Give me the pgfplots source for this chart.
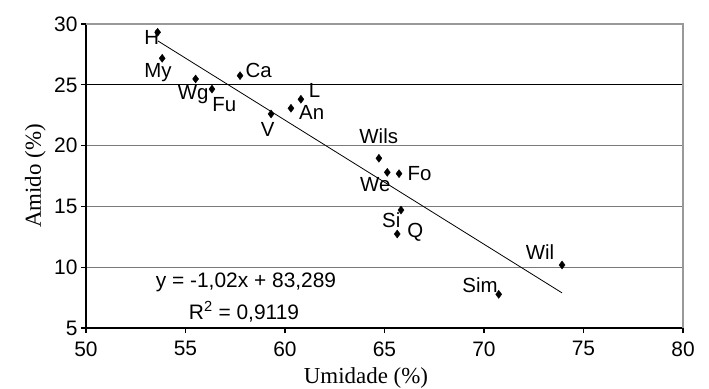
\documentclass[border=0pt]{standalone}
\usepackage{pgfplots}
\pgfplotsset{compat=1.18}
\usepackage{fontspec}
\setmainfont{Liberation Sans}
\newfontfamily\seriffont{Liberation Serif}
\definecolor{framegray}{HTML}{999999}
\definecolor{gridgray}{HTML}{7A7A7A}
\begin{document}
\begin{tikzpicture}
\begin{axis}[
  scale only axis, width=597bp, height=304bp,
  xmin=50, xmax=80, ymin=5, ymax=30,
  xtick={50,55,...,80}, ytick={5,10,...,30},
  axis lines=left, axis line style={-, line width=1.8bp, black},
  tick align=outside, major tick length=5bp,
  tick style={black, line width=1.2bp},
  ymajorgrids, grid style={line width=1.3bp, gridgray},
  extra y ticks={25}, extra y tick labels={},
  extra y tick style={grid style={line width=1.3bp, black}},
  /pgf/number format/assume math mode=true,
  ticklabel style={font=\fontsize{21}{25}\selectfont},
  xticklabel style={yshift=-5bp},
  xlabel={Umidade (\%)}, ylabel={Amido (\%)},
  label style={font=\fontsize{23}{27}\selectfont\seriffont},
  xlabel style={at={(axis description cs:0.469,-0.1842)}, anchor=base},
  ylabel style={at={(axis description cs:-0.0754,0.5)}, anchor=base},
  clip=false,
]
\draw[framegray, line width=2.6bp] (rel axis cs:0,1) -- (rel axis cs:1,1) -- (rel axis cs:1,0);
\addplot[black, line width=0.8bp, no marks] coordinates {(53.62,28.60) (73.92,7.89)};
\addplot[only marks, mark=diamond*, mark size=4bp, black,
  nodes near coords={\lbl},
  visualization depends on={value \thisrow{lbl}\as\lbl},
  visualization depends on={\thisrow{dx}\as\dx},
  visualization depends on={\thisrow{dy}\as\dy},
  every node near coord/.append style={anchor=base, inner sep=0pt,
    xshift=\dx bp, yshift=\dy bp, font=\fontsize{20.5}{24}\selectfont, black},
] table {
x y lbl dx dy
53.60 29.32 H -6 -12.7
53.83 27.18 My -4.3 -19
55.51 25.48 Wg -2.4 -20.3
56.33 24.65 Fu 12.3 -22.7
57.74 25.75 Ca 18.7 -2
59.30 22.60 V -3.3 -22.7
60.30 23.07 An 20.7 -11.7
60.80 23.81 L 13.7 1.6
64.72 18.96 Wils -0.2 14.3
65.14 17.80 We -12 -18.7
65.73 17.69 Fo 20.5 -7.3
65.83 14.70 Si -9.7 -17.7
65.64 12.73 Q 18 -3.7
73.92 10.18 Wil -22 5.7
70.74 7.77 Sim -18.7 1.6
};
\node[anchor=base, font=\fontsize{21}{25}\selectfont] at (axis cs:58.04,8.35) {y = -1,02x + 83,289};
\node[anchor=base, font=\fontsize{21}{25}\selectfont] at (axis cs:57.94,5.72) {R\textsuperscript{2} = 0,9119};
\end{axis}
\pgfresetboundingbox
\useasboundingbox (current axis.south west) ++(-86bp,-61bp) rectangle ++(709bp,389bp);
\end{tikzpicture}
\end{document}
